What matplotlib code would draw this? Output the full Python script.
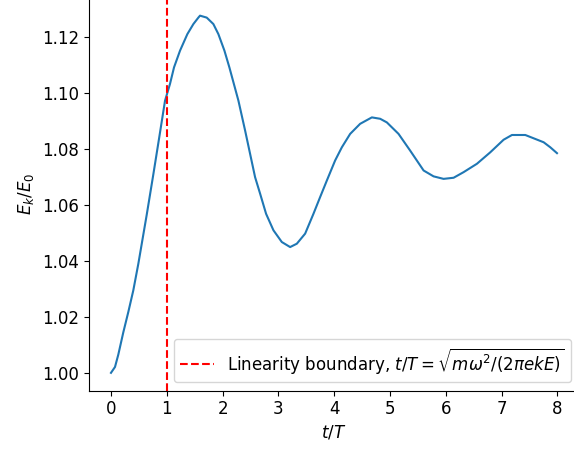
import numpy as np
import matplotlib
matplotlib.use("Agg")
import matplotlib.pyplot as plt

plt.rcParams['font.size'] = 12

# kinetic energy ratio
t_vals = [0.0, 0.072, 0.131, 0.221, 0.311, 0.40, 0.49, 0.55, 0.64, 0.70,
          0.759, 0.867, 0.969, 1.058, 1.130, 1.238, 1.369, 1.477, 1.566, 1.596,
          1.716, 1.835, 1.925, 2.033, 2.122, 2.284, 2.404, 2.493, 2.583, 2.673,
          2.780, 2.912, 3.062, 3.211, 3.331, 3.480, 3.629, 3.749, 3.869, 4.018,
          4.138, 4.287, 4.466, 4.676, 4.825, 4.945, 5.154, 5.363, 5.603, 5.782,
          5.961, 6.141, 6.320, 6.559, 6.798, 7.037, 7.187, 7.426, 7.755, 7.874,
          7.994]
ek_vals = [1.000, 1.0021, 1.0065, 1.0145, 1.0218, 1.0295, 1.0390, 1.0460, 1.0565, 1.0638,
           1.0710, 1.0845, 1.0974, 1.1034, 1.1093, 1.1153, 1.1212, 1.1248, 1.1271, 1.1278,
           1.1271, 1.1248, 1.1212, 1.1153, 1.1093, 1.0974, 1.0867, 1.0784, 1.0700, 1.0641,
           1.0569, 1.0510, 1.0468, 1.0450, 1.0462, 1.0498, 1.0569, 1.0629, 1.0688, 1.0760,
           1.0807, 1.0855, 1.0891, 1.0914, 1.0909, 1.0896, 1.0855, 1.0795, 1.0724, 1.0703,
           1.0694, 1.0698, 1.0718, 1.0748, 1.0789, 1.0834, 1.0851, 1.0851, 1.0825, 1.0807,
           1.0786]
boundary = 1.0

fig = plt.figure(figsize=(5.74, 4.5), dpi=100)
ax = fig.add_axes([0.1545, 0.1318, 0.8547, 0.8731])
ax.plot(t_vals, ek_vals)
ax.axvline(boundary, color='r', linestyle='--',
           label=r'Linearity boundary, $t/T=\sqrt{m\omega^2/(2\pi ekE)}$')
ax.set_xlabel(r'$t/T$')
ax.set_ylabel(r'$E_k/E_0$')
ax.legend(loc='lower right')

fig.savefig('out.png', dpi=100)
